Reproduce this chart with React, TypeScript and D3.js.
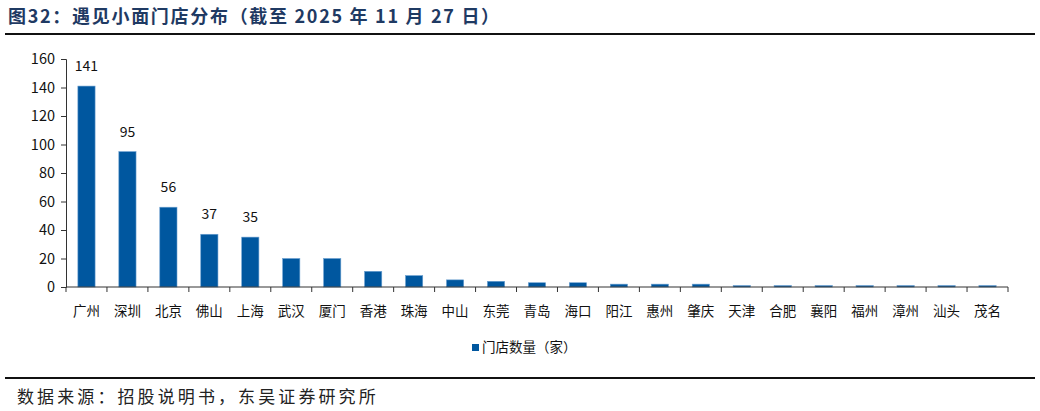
import React, { useEffect, useRef } from 'react';
import * as d3 from 'd3';

const cities = ['广州', '深圳', '北京', '佛山', '上海', '武汉', '厦门', '香港', '珠海', '中山', '东莞', '青岛', '海口', '阳江', '惠州', '肇庆', '天津', '合肥', '襄阳', '福州', '漳州', '汕头', '茂名'];
const stores = [141, 95, 56, 37, 35, 20, 20, 11, 8, 5, 4, 3, 3, 2, 2, 2, 1, 1, 1, 1, 1, 1, 1];
const labelled = [141, 95, 56, 37, 35];
const yTicks = [0, 20, 40, 60, 80, 100, 120, 140, 160];

const FONT = '"Noto Sans CJK SC", "Noto Sans", sans-serif';

export default function App() {
  const svgRef = useRef<SVGSVGElement>(null);

  useEffect(() => {
    const width = 1040;
    const height = 411;
    const svg = d3.select(svgRef.current).attr('width', width).attr('height', height);
    svg.selectAll('*').remove();

    // title + rules
    svg.append('text')
      .attr('x', 8).attr('y', 23)
      .attr('font-family', FONT).attr('font-size', 18).attr('font-weight', 'bold')
      .attr('letter-spacing', 1.7)
      .attr('fill', '#1f3a63')
      .text('图32：遇见小面门店分布（截至 2025 年 11 月 27 日）');
    svg.append('line').attr('x1', 5).attr('x2', 1035).attr('y1', 34).attr('y2', 34)
      .attr('stroke', '#111').attr('stroke-width', 2);
    svg.append('line').attr('x1', 5).attr('x2', 1035).attr('y1', 378).attr('y2', 378)
      .attr('stroke', '#111').attr('stroke-width', 2);
    svg.append('text')
      .attr('x', 17).attr('y', 403)
      .attr('font-family', FONT).attr('font-size', 17).attr('letter-spacing', 3.1)
      .attr('fill', '#222')
      .text('数据来源：招股说明书，东吴证券研究所');

    const margin = { left: 66, right: 32, top: 59, bottom: 124 };
    const innerW = width - margin.left - margin.right;
    const innerH = height - margin.top - margin.bottom;

    const x = d3.scaleBand().domain(cities).range([0, innerW]).paddingInner(0.58).paddingOuter(0.29);
    const y = d3.scaleLinear().domain([0, 160]).range([innerH, 0]);

    const g = svg.append('g').attr('transform', `translate(${margin.left},${margin.top})`);

    // bars
    g.selectAll('rect.bar')
      .data(stores)
      .join('rect')
      .attr('class', 'bar')
      .attr('x', (_, i) => x(cities[i])!)
      .attr('y', (d) => y(d))
      .attr('width', x.bandwidth())
      .attr('height', (d) => innerH - y(d))
      .attr('fill', '#00579f')
      .attr('stroke', '#6a9fd0')
      .attr('stroke-width', 0.6);

    // value labels
    g.selectAll('text.val')
      .data(labelled)
      .join('text')
      .attr('class', 'val')
      .attr('x', (_, i) => x(cities[i])! + x.bandwidth() / 2)
      .attr('y', (d) => y(d) - 15)
      .attr('text-anchor', 'middle')
      .attr('font-family', FONT).attr('font-size', 14).attr('fill', '#111')
      .text((d) => d);

    // y axis
    const yAxis = g.append('g').call(d3.axisLeft(y).tickValues(yTicks).tickSize(5).tickPadding(6));
    yAxis.select('.domain').attr('stroke', '#333');
    yAxis.selectAll('line').attr('stroke', '#333');
    yAxis.selectAll('text').attr('font-family', FONT).attr('font-size', 14.5).attr('fill', '#111');

    // x axis with ticks at category boundaries
    const xg = g.append('g').attr('transform', `translate(0,${innerH})`);
    xg.append('line').attr('x1', 0).attr('x2', innerW).attr('y1', 0).attr('y2', 0).attr('stroke', '#333');
    const bounds = d3.range(cities.length + 1).map((i) => i * (innerW / cities.length));
    xg.selectAll('line.tk')
      .data(bounds)
      .join('line')
      .attr('class', 'tk')
      .attr('x1', (d) => d).attr('x2', (d) => d)
      .attr('y1', 0).attr('y2', 5)
      .attr('stroke', '#333');
    xg.selectAll('text.cat')
      .data(cities)
      .join('text')
      .attr('class', 'cat')
      .attr('x', (d) => x(d)! + x.bandwidth() / 2)
      .attr('y', 29)
      .attr('text-anchor', 'middle')
      .attr('font-family', FONT).attr('font-size', 13.5).attr('fill', '#111')
      .text((d) => d);

    // legend
    const lg = svg.append('g').attr('transform', 'translate(472,344)');
    lg.append('rect').attr('x', 0).attr('y', 0).attr('width', 7).attr('height', 7).attr('fill', '#00579f');
    lg.append('text').attr('x', 10).attr('y', 8)
      .attr('font-family', FONT).attr('font-size', 13.5).attr('fill', '#111')
      .text('门店数量（家）');
  }, []);

  return (
    <div style={{ position: 'absolute', left: 0, top: 0 }}>
      <svg ref={svgRef} style={{ display: 'block' }} />
    </div>
  );
}
